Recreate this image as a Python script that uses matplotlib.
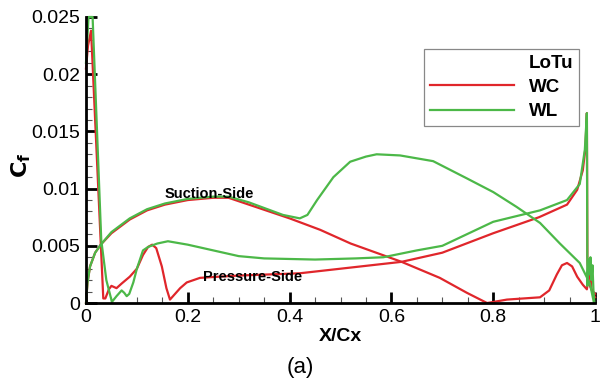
import matplotlib
matplotlib.use("Agg")
import matplotlib.pyplot as plt
from matplotlib.lines import Line2D
from matplotlib.ticker import MultipleLocator

plt.rcParams["font.family"] = ["Liberation Sans", "DejaVu Sans"]

RED = "#e0262b"
GREEN = "#4cb848"

# WC, suction side
wc_ss_x = [0.0, 0.003, 0.008, 0.018, 0.029, 0.05, 0.086, 0.12, 0.155, 0.2, 0.25, 0.28,
           0.32, 0.36, 0.4, 0.46, 0.52, 0.57, 0.62, 0.695, 0.748, 0.788, 0.827, 0.892,
           0.91, 0.925, 0.935, 0.945, 0.955, 0.965, 0.976, 0.984, 0.99, 0.993, 1.0]
wc_ss_y = [0.0, 0.0018, 0.0032, 0.0044, 0.0051, 0.0061, 0.0073, 0.0081, 0.0086, 0.0090, 0.0092, 0.0092,
           0.0086, 0.0080, 0.0074, 0.0064, 0.0052, 0.0044, 0.0036, 0.0022, 0.0009, 0.0, 0.0003, 0.0005,
           0.0011, 0.0025, 0.0033, 0.0035, 0.0032, 0.0023, 0.0016, 0.0012, 0.0030, 0.0012, 0.0008]

# WC, pressure side
wc_ps_x = [0.0, 0.004, 0.010, 0.034, 0.038, 0.045, 0.05, 0.06, 0.07, 0.086, 0.1, 0.112,
           0.122, 0.13, 0.138, 0.149, 0.158, 0.165, 0.175, 0.185, 0.198, 0.224, 0.26, 0.3,
           0.42, 0.52, 0.62, 0.7, 0.8, 0.89, 0.945, 0.965, 0.976, 0.981, 0.984, 0.985,
           0.987, 0.99, 0.995, 1.0]
wc_ps_y = [0.0205, 0.0225, 0.0238, 0.0004, 0.0004, 0.0012, 0.0015, 0.0013, 0.0017, 0.0023, 0.0030, 0.0042,
           0.0049, 0.0051, 0.0048, 0.0032, 0.0013, 0.0003, 0.0008, 0.0013, 0.0018, 0.0022, 0.0023, 0.0024,
           0.0026, 0.0031, 0.0036, 0.0044, 0.0061, 0.0075, 0.0086, 0.0099, 0.0116, 0.0135, 0.0166, 0.0040,
           0.0020, 0.0015, 0.0010, 0.0005]

# WL, suction side
wl_ss_x = [0.0, 0.003, 0.008, 0.018, 0.029, 0.05, 0.086, 0.12, 0.155, 0.2, 0.25, 0.28,
           0.32, 0.387, 0.42, 0.435, 0.454, 0.486, 0.519, 0.55, 0.571, 0.617, 0.682, 0.748,
           0.8, 0.846, 0.892, 0.931, 0.97, 0.99, 0.998]
wl_ss_y = [0.0, 0.0018, 0.0032, 0.0044, 0.0051, 0.0062, 0.0074, 0.0082, 0.0087, 0.0091, 0.0093, 0.0093,
           0.0088, 0.0077, 0.0074, 0.0077, 0.0090, 0.0110, 0.01235, 0.0128, 0.0130, 0.0129, 0.0124, 0.0109,
           0.0097, 0.0084, 0.0070, 0.0052, 0.0035, 0.0017, 0.0]

# WL, pressure side
wl_ps_x = [0.0, 0.005, 0.013, 0.03, 0.04, 0.051, 0.06, 0.07, 0.075, 0.08, 0.085, 0.093,
           0.1, 0.112, 0.122, 0.14, 0.161, 0.2, 0.25, 0.3, 0.35, 0.45, 0.53, 0.584,
           0.65, 0.7, 0.8, 0.892, 0.945, 0.97, 0.98, 0.984, 0.985, 0.987, 0.989, 0.991,
           0.993, 0.995, 0.997, 0.999]
wl_ps_y = [0.0210, 0.0250, 0.0250, 0.0055, 0.0020, 0.0001, 0.0006, 0.0011, 0.0009, 0.0006, 0.0008, 0.0018,
           0.0030, 0.0046, 0.0049, 0.0052, 0.0054, 0.0051, 0.0046, 0.0041, 0.0039, 0.0038, 0.0039, 0.0040,
           0.0046, 0.0050, 0.0071, 0.0081, 0.0090, 0.0104, 0.0134, 0.0166, 0.0015, 0.0038, 0.0025, 0.0040,
           0.0020, 0.0033, 0.0010, 0.0]

x_ticks = [0, 0.2, 0.4, 0.6, 0.8, 1.0]
x_labels = ["0", "0.2", "0.4", "0.6", "0.8", "1"]
y_ticks = [0, 0.005, 0.01, 0.015, 0.02, 0.025]
y_labels = ["0", "0.005", "0.01", "0.015", "0.02", "0.025"]

fig = plt.figure(figsize=(6, 3.88), dpi=100)
ax = fig.add_axes([0.1433, 0.219, 0.8484, 0.7372])

lw = 1.6
ax.plot(wc_ss_x, wc_ss_y, color=RED, lw=lw, clip_on=False)
ax.plot(wc_ps_x, wc_ps_y, color=RED, lw=lw, clip_on=False)
ax.plot(wl_ss_x, wl_ss_y, color=GREEN, lw=lw, clip_on=False)
ax.plot(wl_ps_x, wl_ps_y, color=GREEN, lw=lw, clip_on=False)

ax.set_xlim(0, 1)
ax.set_ylim(0, 0.025)
ax.spines["top"].set_visible(False)
ax.spines["right"].set_visible(False)
ax.spines["left"].set_linewidth(2)
ax.spines["bottom"].set_linewidth(2)

ax.set_xticks(x_ticks)
ax.set_xticklabels(x_labels)
ax.set_yticks(y_ticks)
ax.set_yticklabels(y_labels)
ax.xaxis.set_minor_locator(MultipleLocator(0.05))
ax.yaxis.set_minor_locator(MultipleLocator(0.001))
ax.tick_params(which="major", direction="in", length=8, width=2, labelsize=14, pad=4)
ax.tick_params(which="minor", direction="in", length=4, width=0.8, color="#555555")

# label positions given in pixels, converted to axes fractions
ax.set_xlabel("X/Cx", fontsize=14, fontweight="bold")
ax.xaxis.set_label_coords((340 - 86) / 509, -(328 - 303) / 286)
ax.set_ylabel(r"$\mathbf{C_f}$", fontsize=16)
ax.yaxis.set_label_coords((33 - 86) / 509, (303 - 165) / 286)

ax.text(0.155, 0.0095, "Suction-Side", fontsize=10.5, fontweight="bold", va="center")
ax.text(0.23, 0.0023, "Pressure-Side", fontsize=10.5, fontweight="bold", va="center")

handles = [Line2D([], [], color="none"),
           Line2D([], [], color=RED, lw=lw),
           Line2D([], [], color=GREEN, lw=lw)]
leg = ax.legend(handles, ["LoTu", "WC", "WL"], loc="upper left",
                bbox_to_anchor=(424 / 600, 1 - 49 / 388), bbox_transform=fig.transFigure,
                borderaxespad=0, fancybox=False, framealpha=1, edgecolor="#888888",
                handlelength=4.5, handletextpad=0.8, labelspacing=0.38, borderpad=0.3,
                prop={"size": 13.5, "weight": "bold"})
leg.get_frame().set_linewidth(0.9)

fig.text(0.5, 1 - 368 / 388, "(a)", fontsize=16, ha="center", va="center")

fig.savefig("out.png", dpi=100)
